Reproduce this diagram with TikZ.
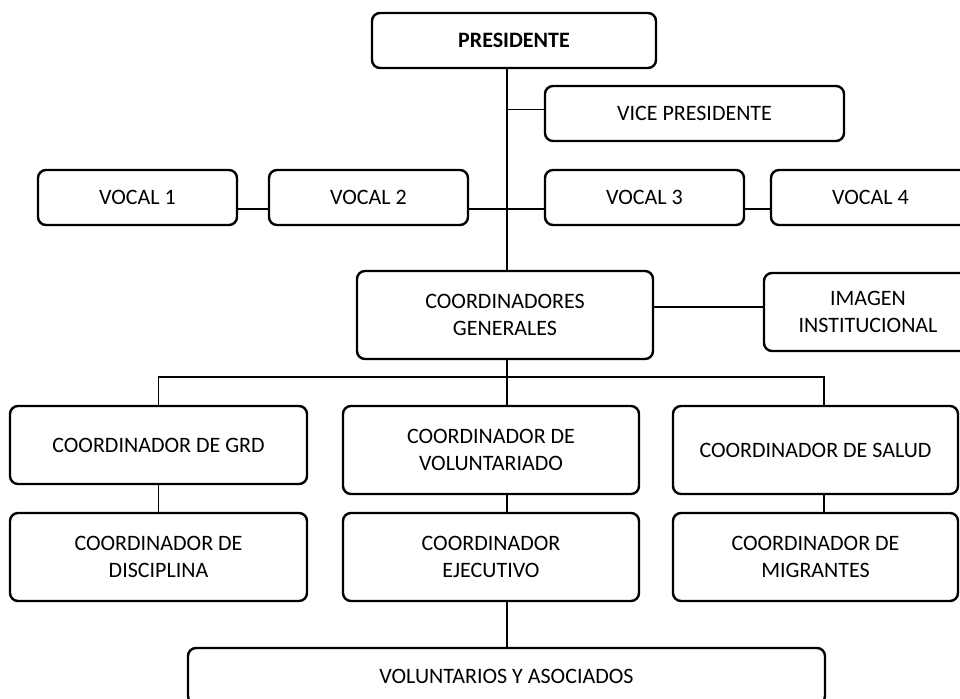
\documentclass[tikz,border=0pt]{standalone}
\usepackage{fontspec}
\setmainfont{Carlito}
\begin{document}
\begin{tikzpicture}[
x=1pt, y=-1pt,
bx/.style = {draw,rounded corners=8pt,line width=2.4pt,align=center,inner sep=0pt,font=\fontsize{22}{27}\selectfont},
lnk/.style = {draw,line width=1.3pt}
]
  \useasboundingbox (0,0) rectangle (960,698);
  \clip (0,0) rectangle (960,698);

  \coordinate (sp) at (507,0);
  \coordinate (rc) at (824,0);
  \coordinate (bus) at (0,377);

  \node[bx,minimum width=284pt,minimum height=55pt] (pres) at (514,40.5) {\textbf{PRESIDENTE}};
  \node[bx,minimum width=299pt,minimum height=55pt] (vice) at (694.5,113.5) {VICE PRESIDENTE};
  \node[bx,minimum width=199pt,minimum height=55pt] (voc1) at (137.5,197.5) {VOCAL 1};
  \node[bx,minimum width=199pt,minimum height=55pt] (voc2) at (368.5,197.5) {VOCAL 2};
  \node[bx,minimum width=199pt,minimum height=55pt] (voc3) at (644.5,197.5) {VOCAL 3};
  \node[bx,minimum width=199pt,minimum height=55pt] (voc4) at (870.5,197.5) {VOCAL 4};
  \node[bx,minimum width=296pt,minimum height=88pt] (cgen) at (505,315) {COORDINADORES\\GENERALES};
  \node[bx,minimum width=208pt,minimum height=78pt] (imag) at (868,312) {IMAGEN\\INSTITUCIONAL};
  \node[bx,minimum width=297pt,minimum height=78pt] (grd) at (158.5,445) {COORDINADOR DE GRD};
  \node[bx,minimum width=296pt,minimum height=88pt] (vol) at (491,450) {COORDINADOR DE\\VOLUNTARIADO};
  \node[bx,minimum width=285pt,minimum height=88pt] (salud) at (815.5,450) {COORDINADOR DE SALUD};
  \node[bx,minimum width=297pt,minimum height=88pt] (disc) at (158.5,557) {COORDINADOR DE\\DISCIPLINA};
  \node[bx,minimum width=296pt,minimum height=88pt] (ejec) at (491,557) {COORDINADOR\\EJECUTIVO};
  \node[bx,minimum width=285pt,minimum height=88pt] (migr) at (815.5,557) {COORDINADOR DE\\MIGRANTES};
  \node[bx,minimum width=637pt,minimum height=56pt] (volas) at (506.5,676) {VOLUNTARIOS Y ASOCIADOS};

  \path[lnk] (sp |- pres.south) -- (sp |- cgen.north);
  \path[lnk] ([yshift=4pt]vice.west) -- ++(-38,0);
  \path[lnk] ([yshift=-11.5pt]voc1.east) -- ([yshift=-11.5pt]voc2.west);
  \path[lnk] ([yshift=-11.5pt]voc2.east) -- ([yshift=-11.5pt]voc3.west);
  \path[lnk] ([yshift=-11.5pt]voc3.east) -- ([yshift=-11.5pt]voc4.west);
  \path[lnk] ([yshift=8pt]cgen.east) -- ([yshift=5pt]imag.west);

  \path[lnk] (sp |- cgen.south) -- (sp |- vol.north);
  \path[lnk] (grd.north) -- (grd.north |- bus) -- (rc |- bus) -- (rc |- salud.north);
  \path[lnk] (grd.south) -- (disc.north);
  \path[lnk] (sp |- vol.south) -- (sp |- ejec.north);
  \path[lnk] (rc |- salud.south) -- (rc |- migr.north);
  \path[lnk] (sp |- ejec.south) -- (sp |- volas.north);

\end{tikzpicture}
\end{document}
